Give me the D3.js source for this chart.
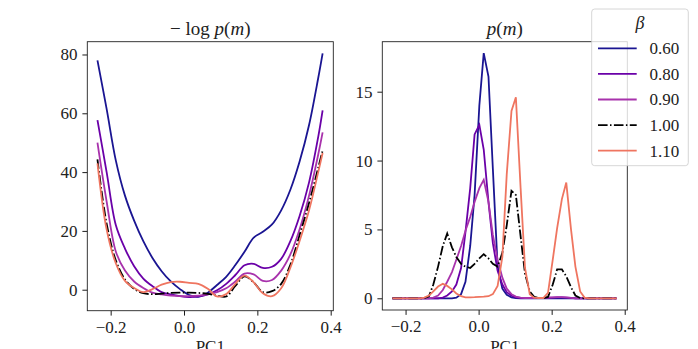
<!DOCTYPE html>
<html>
<head>
<meta charset="utf-8">
<script src="https://cdn.jsdelivr.net/npm/d3@7"></script>
<style>
  body { margin: 0; background: #fff; }
  text { font-family: "Liberation Serif", "DejaVu Serif", serif; }
</style>
</head>
<body>
<svg id="chart" width="698" height="349"></svg>
<script>
// beta values, colors in legend order
const betas = ["0.60", "0.80", "0.90", "1.00", "1.10"];
const colors = ["#1a1592", "#6a00a8", "#a832ac", "#000000", "#ef7560"];

// -log p(m), smooth curves
const pc1Smooth = [-0.236, -0.211, -0.186, -0.161, -0.136, -0.111, -0.086, -0.061, -0.036, -0.011,
  0.014, 0.039, 0.065, 0.090, 0.115, 0.140, 0.165, 0.190, 0.215, 0.240, 0.265, 0.290, 0.315, 0.341, 0.366, 0.378];
const nlog060 = [78, 61.5, 44, 32, 23.5, 16.5, 10.8, 6.3, 2.8, 0.2, -1.8, -2.4, -1, 1.6, 4.4, 8.4, 12.9, 17.7, 19.7, 22.2, 27, 34, 43.5, 56, 72, 80.4];
const nlog080 = [57.7, 40, 22, 14, 8, 3.8, 1.2, -0.8, -1.6, -2.2, -2.5, -2.3, -1.6, -0.2, 2, 5, 8.3, 8.8, 7.4, 7.8, 10.5, 16.5, 25, 36.5, 52, 61];
const nlog090 = [50, 30, 13, 6.5, 2.8, 0.6, -1, -1.6, -2, -2.2, -2.2, -2, -1.6, -0.8, 0.5, 2.8, 5.5, 5.2, 3, 3.3, 6.5, 12, 20.5, 32, 46, 53.5];
const nlog100 = [44.3, 22.5, 10, 3.5, 0.3, -1.2, -1.5, -1.3, -1.1, -1, -1, -1.1, -1.4, -2, -2.3, 1.3, 4.5, 2.5, -0.8, -0.5, 2, 8.5, 18.5, 29.5, 41.5, 47.3];
const nlog110 = [43, 20.5, 9, 3, 0.6, -0.8, 0.2, 1.7, 2.6, 2.7, 2.3, 2.0, 0.3, -2.3, -1.5, 2, 4.8, 2.5, -1.2, -2.2, 0.5, 7.5, 16.5, 27, 40, 46.5];

// p(m), histogram grid
const pc1Grid = [-0.236, -0.224, -0.211, -0.199, -0.186, -0.174, -0.161, -0.149, -0.136, -0.124,
  -0.111, -0.098, -0.086, -0.073, -0.061, -0.048, -0.036, -0.023, -0.011, 0.002,
  0.014, 0.027, 0.039, 0.052, 0.065, 0.077, 0.090, 0.102, 0.115, 0.127,
  0.140, 0.152, 0.165, 0.177, 0.190, 0.203, 0.215, 0.228, 0.240, 0.253,
  0.265, 0.278, 0.290, 0.303, 0.315, 0.328, 0.341, 0.353, 0.366, 0.378];
const p060 = [0, 0, 0, 0, 0, 0, 0, 0, 0, 0, 0, 0, 0, 0, 0.05, 0.3, 1.2, 3.8, 7.5, 14.0,
  17.8, 16.1, 9.4, 2.3, 0.7, 0.25, 0.07, 0.02, 0, 0, 0, 0, 0, 0, 0, 0, 0, 0, 0, 0,
  0, 0, 0, 0, 0, 0, 0, 0, 0, 0];
const p080 = [0, 0, 0, 0, 0, 0, 0, 0, 0, 0, 0, 0.05, 0.2, 0.5, 1.0, 2.2, 4.8, 8.0, 11.9, 12.6,
  10.8, 7.0, 4.0, 2.0, 1.0, 0.45, 0.18, 0.06, 0.02, 0.02, 0.02, 0.02, 0.02, 0.02, 0.04, 0.05, 0.06, 0.06, 0.05, 0.03,
  0, 0, 0, 0, 0, 0, 0, 0, 0, 0];
const p090 = [0, 0, 0, 0, 0, 0, 0, 0, 0, 0.05, 0.2, 0.6, 1.2, 1.9, 2.8, 3.8, 4.9, 5.9, 7.0, 8.0,
  8.6, 7.0, 4.6, 2.8, 1.5, 0.7, 0.3, 0.12, 0.05, 0.02, 0.02, 0.02, 0.02, 0.03, 0.05, 0.07, 0.08, 0.08, 0.06, 0.03,
  0, 0, 0, 0, 0, 0, 0, 0, 0, 0];
const p100 = [0, 0, 0, 0, 0, 0, 0, 0, 0.15, 1.0, 2.3, 3.8, 4.7, 3.7, 3.0, 2.5, 2.3, 2.2, 2.5, 2.9,
  3.2, 2.9, 2.5, 2.3, 3.3, 5.3, 7.8, 7.5, 4.5, 1.8, 0.5, 0.1, 0.02, 0, 0.1, 1.0, 2.1, 2.1, 1.6, 0.8,
  0.2, 0.02, 0, 0, 0, 0, 0, 0, 0, 0];
const p110 = [0, 0, 0, 0, 0, 0, 0, 0.05, 0.2, 0.5, 0.85, 1.05, 0.9, 0.65, 0.35, 0.15, 0.07, 0.07, 0.08, 0.1,
  0.12, 0.15, 0.3, 0.9, 3.0, 9.0, 13.6, 14.6, 8.0, 2.2, 0.3, 0.05, 0.02, 0.02, 0.4, 2.8, 5.1, 7.2, 8.4, 5.0,
  2.3, 0.5, 0.05, 0, 0, 0, 0, 0, 0, 0];

const xTicks = [-0.2, 0, 0.2, 0.4];
const nlogTicks = [0, 20, 40, 60, 80];
const pTicks = [0, 5, 10, 15];

const nlogSeries = [nlog060, nlog080, nlog090, nlog100, nlog110];
const pSeries = [p060, p080, p090, p100, p110];

const svg = d3.select("#chart");
svg.append("rect").attr("width", 698).attr("height", 349).attr("fill", "#fff");

const fontSize = 17;
const tick = 4.9;
const dashDot = "9.6,2.4,1.5,2.4";

function panel(x0, x1, y0, y1, yDomain, yTicks, xs, series, curve, title) {
  const x = d3.scaleLinear().domain([-0.2637, 0.4071]).range([x0, x1]);
  const y = d3.scaleLinear().domain(yDomain).range([y1, y0]);
  const g = svg.append("g");

  const line = (vals) => d3.line()
    .x((_, i) => x(xs[i]))
    .y((d) => y(d))
    .curve(curve)(vals);

  g.selectAll("path.series")
    .data(series)
    .enter()
    .append("path")
    .attr("class", "series")
    .attr("d", (d) => line(d))
    .attr("fill", "none")
    .attr("stroke", (_, i) => colors[i])
    .attr("stroke-width", 1.8)
    .attr("stroke-dasharray", (_, i) => (betas[i] === "1.00" ? dashDot : null));

  const xAxis = g.append("g")
    .attr("transform", `translate(0,${y1})`)
    .call(d3.axisBottom(x).tickValues(xTicks).tickFormat(d3.format(".1f")).tickSize(tick).tickPadding(4.9));
  const yAxis = g.append("g")
    .attr("transform", `translate(${x0},0)`)
    .call(d3.axisLeft(y).tickValues(yTicks).tickFormat(d3.format("d")).tickSize(tick).tickPadding(4.9));
  [xAxis, yAxis].forEach((a) => {
    a.select(".domain").remove();
    a.selectAll("line").attr("stroke", "#000").attr("stroke-width", 0.9);
    a.selectAll("text").attr("font-family", "Liberation Serif").attr("font-size", fontSize).attr("fill", "#222");
  });

  g.append("rect")
    .attr("x", x0).attr("y", y0)
    .attr("width", x1 - x0).attr("height", y1 - y0)
    .attr("fill", "none").attr("stroke", "#222").attr("stroke-width", 0.9);

  const t = g.append("text")
    .attr("x", (x0 + x1) / 2).attr("y", 35)
    .attr("text-anchor", "middle")
    .attr("font-size", 19).attr("fill", "#222");
  title.forEach(([s, it]) => t.append("tspan").attr("font-style", it ? "italic" : "normal").text(s));

  // axis label, cut by the bottom edge as in the original
  g.append("text")
    .attr("x", (x0 + x1) / 2).attr("y", 352)
    .attr("text-anchor", "middle")
    .attr("font-size", fontSize).attr("fill", "#222")
    .text("PC1");
}

panel(87.3, 333.3, 41.7, 310.7, [-7.14, 84.35], nlogTicks, pc1Smooth, nlogSeries, d3.curveCatmullRom.alpha(0.5),
  [["− log ", false], ["p", true], ["(", false], ["m", true], [")", false]]);
panel(382.3, 627.3, 41.7, 310, [-0.85, 18.63], pTicks, pc1Grid, pSeries, d3.curveLinear,
  [["p", true], ["(", false], ["m", true], [")", false]]);

// legend
const lg = svg.append("g");
lg.append("rect")
  .attr("x", 591.7).attr("y", 9).attr("width", 96.6).attr("height", 156.7).attr("rx", 3)
  .attr("fill", "#fff").attr("fill-opacity", 0.8)
  .attr("stroke", "#cccccc").attr("stroke-width", 0.8);
lg.append("text")
  .attr("x", 640).attr("y", 29)
  .attr("text-anchor", "middle").attr("font-style", "italic")
  .attr("font-size", 18).attr("fill", "#222").text("β");
const entry = lg.selectAll("g.entry")
  .data(betas)
  .enter()
  .append("g")
  .attr("class", "entry")
  .attr("transform", (_, i) => `translate(0,${48.3 + i * 25.6})`);
entry.append("line")
  .attr("x1", 598).attr("x2", 636.7)
  .attr("stroke", (_, i) => colors[i]).attr("stroke-width", 1.8)
  .attr("stroke-dasharray", (d) => (d === "1.00" ? dashDot : null));
entry.append("text")
  .attr("x", 649.5).attr("y", 0).attr("dy", "0.35em")
  .attr("font-size", fontSize).attr("fill", "#222")
  .text((d) => d);
</script>
</body>
</html>
